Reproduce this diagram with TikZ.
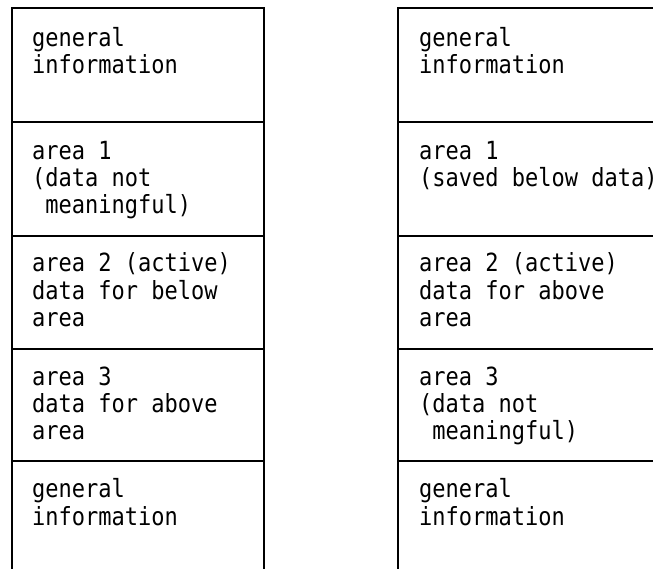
\documentclass[tikz,border=0pt]{standalone}
\usepackage{fontspec}
\newfontfamily\mono[FakeStretch=0.88]{DejaVu Sans Mono}
\begin{document}
\begin{tikzpicture}[x=1pt,y=-1pt,
  rule/.style={line width=1.3pt,black},
  txt/.style={anchor=base west,inner sep=0pt,font=\mono\fontsize{25}{27}\selectfont}]
\useasboundingbox (0,0) rectangle (653,569);
% left column
\coordinate (LT) at (12,8);
\coordinate (LB) at (12,569);
\coordinate (RT) at (264,8);
\coordinate (RB) at (264,569);
\draw[rule] (LB) -- (LT) -- (RT) -- (RB);
\foreach \y [count=\i] in {122,236,349,461} {
  \coordinate (la\i) at (12,\y);
  \coordinate (lb\i) at (264,\y);
  \draw[rule] (la\i) -- (lb\i);
}
% right column
\coordinate (R2T) at (398,8);
\coordinate (R2B) at (398,569);
\coordinate (R2E) at (653,8);
\draw[rule] (R2B) -- (R2T) -- (R2E);
\foreach \y [count=\i] in {122,236,349,461} {
  \coordinate (ra\i) at (398,\y);
  \coordinate (rb\i) at (653,\y);
  \draw[rule] (ra\i) -- (rb\i);
}
% left texts
\node[txt] (a1) at (32,47) {general};
\node[txt] (a2) at (32,74) {information};
\node[txt] (a3) at (32,160) {area 1};
\node[txt] (a4) at (32,187) {(data not};
\node[txt] (a5) at (32,214) {\ meaningful)};
\node[txt] (a6) at (32,272) {area 2 (active)};
\node[txt] (a7) at (32,299) {data for below};
\node[txt] (a8) at (32,326) {area};
\node[txt] (a9) at (32,385) {area 3};
\node[txt] (a10) at (32,412) {data for above};
\node[txt] (a11) at (32,439) {area};
\node[txt] (a12) at (32,497) {general};
\node[txt] (a13) at (32,525) {information};
% right texts
\node[txt] (b1) at (419,47) {general};
\node[txt] (b2) at (419,74) {information};
\node[txt] (b3) at (419,160) {area 1};
\node[txt] (b4) at (419,187) {(saved below data)};
\node[txt] (b6) at (419,272) {area 2 (active)};
\node[txt] (b7) at (419,299) {data for above};
\node[txt] (b8) at (419,326) {area};
\node[txt] (b9) at (419,385) {area 3};
\node[txt] (b10) at (419,412) {(data not};
\node[txt] (b11) at (419,439) {\ meaningful)};
\node[txt] (b12) at (419,497) {general};
\node[txt] (b13) at (419,525) {information};
\end{tikzpicture}
\end{document}
